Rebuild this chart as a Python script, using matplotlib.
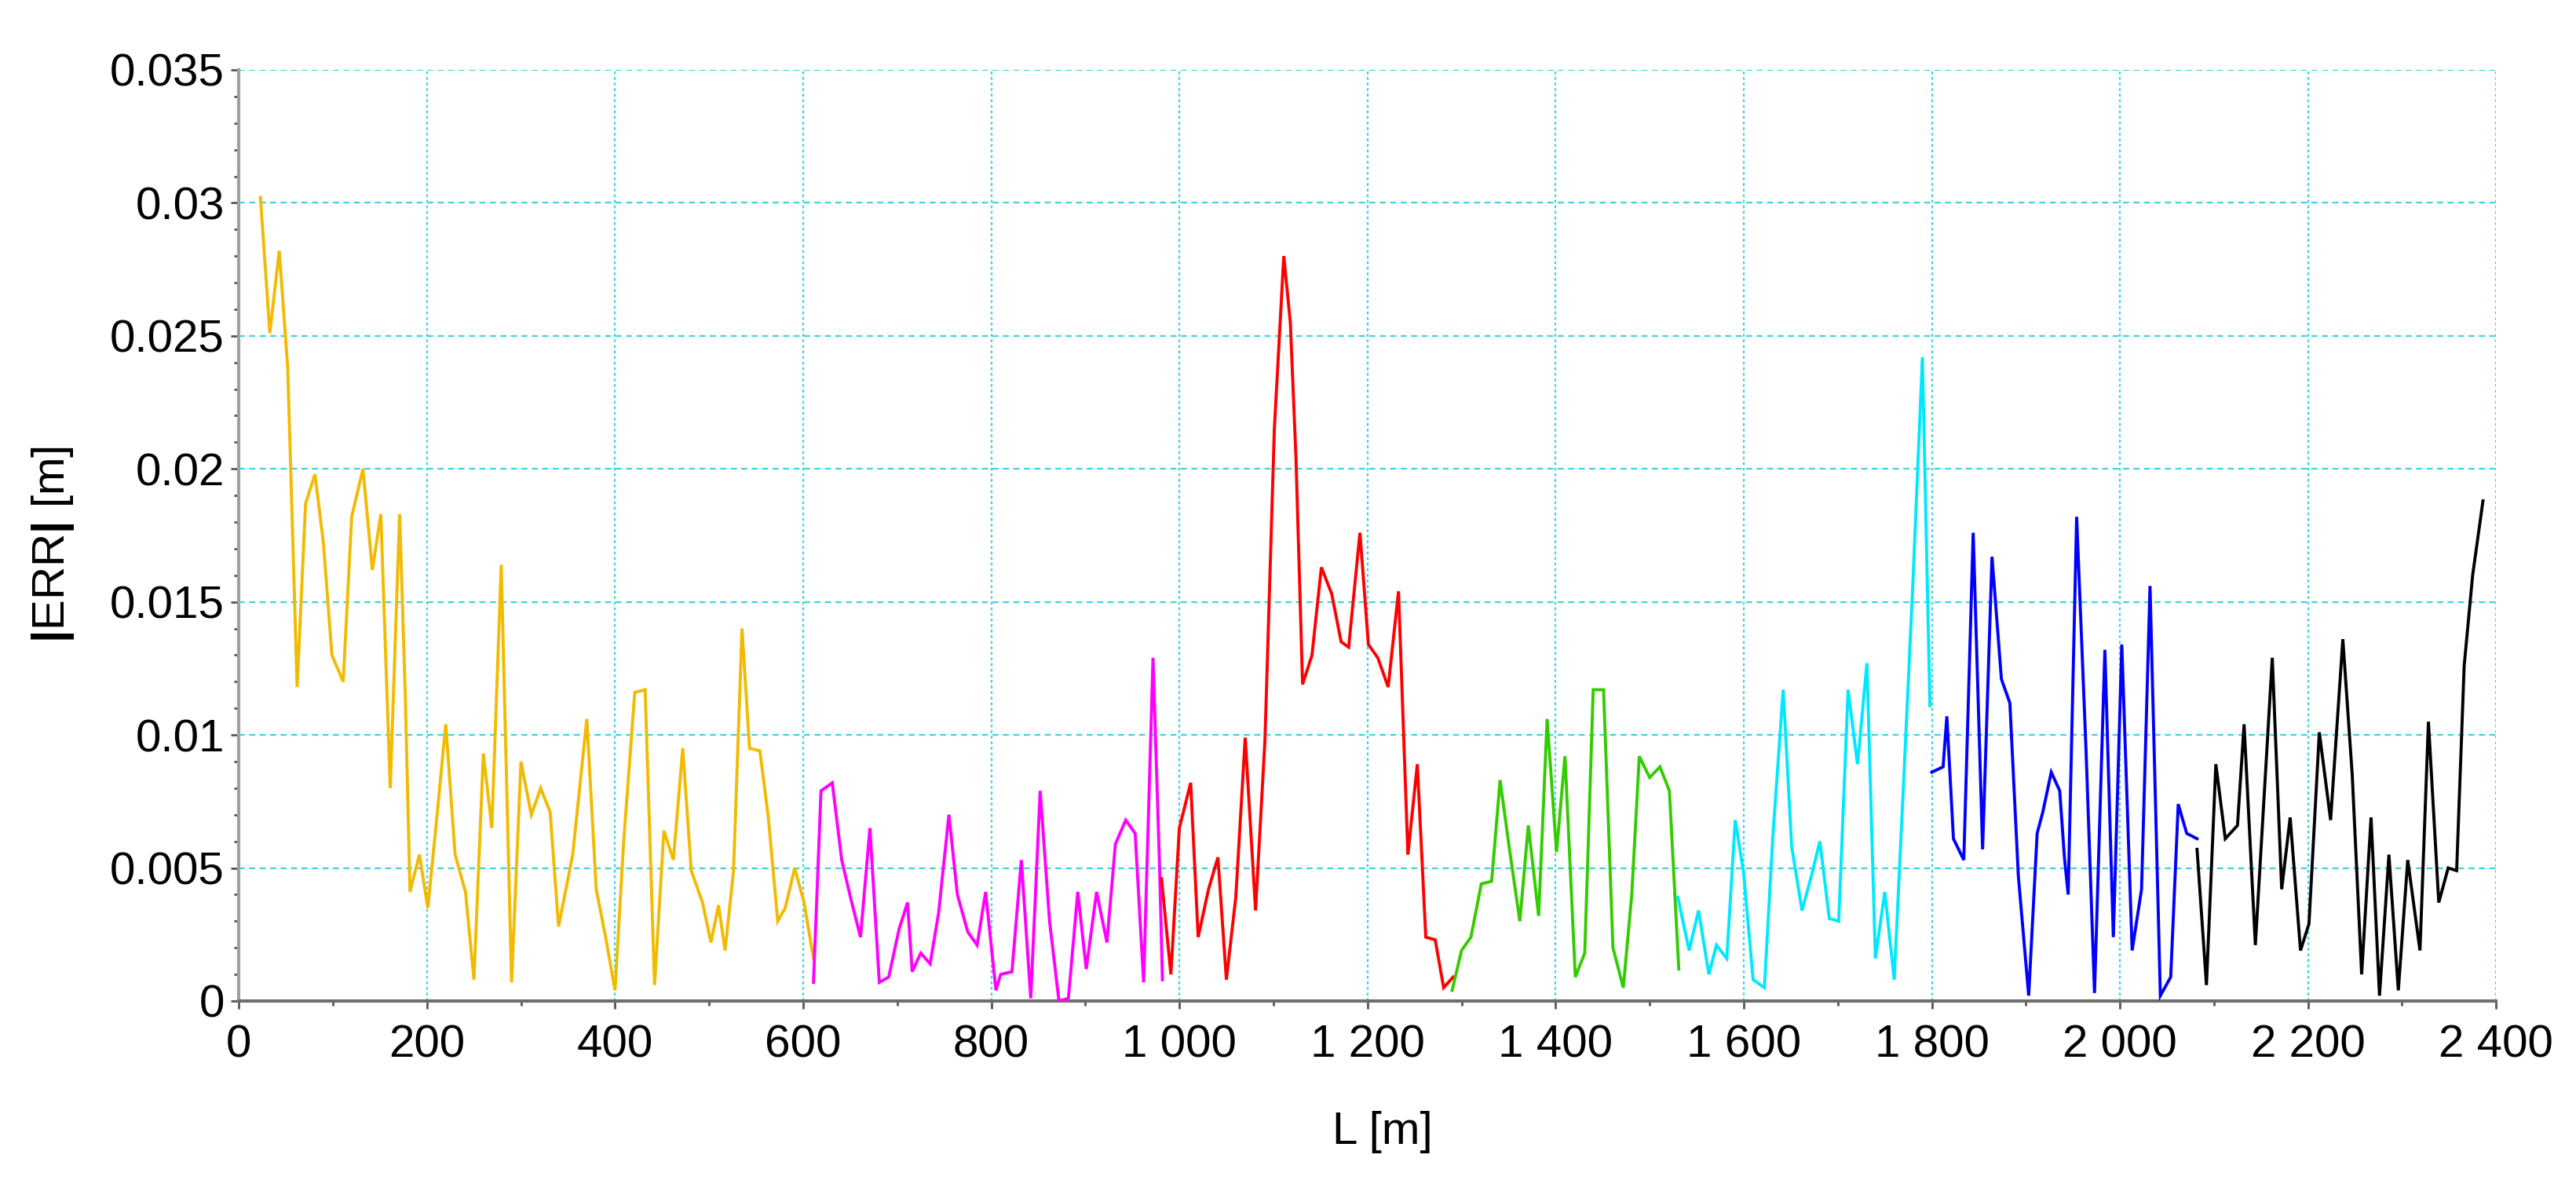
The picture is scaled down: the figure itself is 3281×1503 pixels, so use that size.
import matplotlib
matplotlib.use("Agg")
import matplotlib.pyplot as plt
from matplotlib.ticker import MultipleLocator, FuncFormatter

plt.rcParams['font.family'] = ['Liberation Sans', 'DejaVu Sans']
plt.rcParams['mathtext.fontset'] = 'custom'
plt.rcParams['mathtext.rm'] = 'Liberation Sans'
plt.rcParams['mathtext.bf'] = 'Liberation Sans:bold'

# ---- data ----
orange_x = [23, 33, 43, 52, 62, 71, 81, 90, 99, 111, 120, 132, 142, 151, 161, 171, 177, 182, 192, 201,
            210, 220, 230, 241, 250, 260, 269, 279, 290, 300, 311, 321, 331, 340, 355, 370, 380, 390, 400,
            409, 421, 432, 442, 452, 462, 472, 481, 493, 502, 510, 517, 526, 535, 543, 554, 563, 573, 581,
            591, 601, 611]
orange_y = [0.0302, 0.0251, 0.0282, 0.0238, 0.0118, 0.0187, 0.0198, 0.0172, 0.0130, 0.0120, 0.0182, 0.0200,
            0.0162, 0.0183, 0.0080, 0.0183, 0.0115, 0.0041, 0.0055, 0.0035, 0.0067, 0.0104, 0.0055, 0.0041,
            0.0008, 0.0093, 0.0065, 0.0164, 0.0007, 0.0090, 0.0070, 0.0080, 0.0071, 0.0028, 0.0055, 0.0106,
            0.0042, 0.0024, 0.0004, 0.0059, 0.0116, 0.0117, 0.0006, 0.0064, 0.0053, 0.0095, 0.0049, 0.0037,
            0.0022, 0.0036, 0.0019, 0.0049, 0.0140, 0.0095, 0.0094, 0.0069, 0.0030, 0.0035, 0.0050, 0.0037,
            0.0016]

magenta_x = [611, 619, 631, 641, 651, 661, 671, 681, 691, 702, 711, 716, 725, 735, 744, 755, 764, 775, 785,
             794, 805, 810, 822, 832, 842, 852, 862, 872, 882, 892, 901, 912, 923, 932, 943, 953, 962, 972,
             979, 982]
magenta_y = [0.0007, 0.0079, 0.0082, 0.0053, 0.0038, 0.0024, 0.0065, 0.0007, 0.0009, 0.0027, 0.0037, 0.0011,
             0.0018, 0.0014, 0.0033, 0.0070, 0.0040, 0.0026, 0.0021, 0.0041, 0.0004, 0.0010, 0.0011, 0.0053,
             0.0001, 0.0079, 0.0030, 0.0000, 0.0001, 0.0041, 0.0012, 0.0041, 0.0022, 0.0059, 0.0068, 0.0063,
             0.0007, 0.0129, 0.0050, 0.0008]

red_x = [981, 991, 1000, 1012, 1020, 1031, 1041, 1050, 1060, 1070, 1081, 1091, 1101, 1111, 1118, 1124, 1131,
         1141, 1151, 1162, 1172, 1180, 1192, 1201, 1211, 1222, 1233, 1243, 1253, 1262, 1272, 1281, 1291]
red_y = [0.0046, 0.0010, 0.0065, 0.0082, 0.0024, 0.0042, 0.0054, 0.0008, 0.0039, 0.0099, 0.0034, 0.0098,
         0.0215, 0.0280, 0.0255, 0.0204, 0.0119, 0.0130, 0.0163, 0.0153, 0.0135, 0.0133, 0.0176, 0.0134,
         0.0129, 0.0118, 0.0154, 0.0055, 0.0089, 0.0024, 0.0023, 0.0005, 0.0009]

green_x = [1290, 1300, 1310, 1321, 1332, 1341, 1351, 1362, 1371, 1382, 1391, 1401, 1410, 1421, 1431, 1440,
           1451, 1461, 1472, 1481, 1489, 1500, 1511, 1521, 1531]
green_y = [0.0004, 0.0019, 0.0024, 0.0044, 0.0045, 0.0083, 0.0057, 0.0030, 0.0066, 0.0032, 0.0106, 0.0056,
           0.0092, 0.0009, 0.0018, 0.0117, 0.0117, 0.0020, 0.0005, 0.0040, 0.0092, 0.0084, 0.0088, 0.0079,
           0.0012]

cyan_x = [1530, 1542, 1552, 1563, 1571, 1582, 1591, 1600, 1610, 1622, 1631, 1642, 1651, 1662, 1672, 1681,
          1691, 1701, 1711, 1721, 1731, 1740, 1750, 1760, 1770, 1780, 1790, 1798]
cyan_y = [0.0039, 0.0019, 0.0034, 0.0010, 0.0021, 0.0016, 0.0068, 0.0048, 0.0008, 0.0005, 0.0062, 0.0117,
          0.0058, 0.0034, 0.0047, 0.0060, 0.0031, 0.0030, 0.0117, 0.0089, 0.0127, 0.0016, 0.0041, 0.0008,
          0.0082, 0.0158, 0.0242, 0.0111]

blue_x = [1800, 1812, 1816, 1823, 1834, 1844, 1854, 1864, 1874, 1883, 1892, 1903, 1912, 1918, 1927, 1936,
          1941, 1945, 1954, 1964, 1973, 1984, 1993, 2002, 2013, 2023, 2032, 2043, 2054, 2062, 2071, 2082]
blue_y = [0.0086, 0.0088, 0.0107, 0.0061, 0.0053, 0.0176, 0.0057, 0.0167, 0.0121, 0.0112, 0.0047, 0.0002,
          0.0063, 0.0071, 0.0086, 0.0079, 0.0054, 0.0040, 0.0182, 0.0094, 0.0003, 0.0132, 0.0024, 0.0134,
          0.0019, 0.0042, 0.0156, 0.0002, 0.0009, 0.0074, 0.0063, 0.0061]

black_x = [2082, 2092, 2102, 2112, 2125, 2132, 2144, 2153, 2162, 2172, 2181, 2192, 2201, 2212, 2224, 2237,
           2247, 2257, 2267, 2276, 2286, 2296, 2306, 2319, 2328, 2339, 2349, 2358, 2366, 2375, 2386]
black_y = [0.0057, 0.0006, 0.0089, 0.0061, 0.0066, 0.0104, 0.0021, 0.0075, 0.0129, 0.0042, 0.0069, 0.0019,
           0.0029, 0.0101, 0.0068, 0.0136, 0.0085, 0.0010, 0.0069, 0.0002, 0.0055, 0.0004, 0.0053, 0.0019,
           0.0105, 0.0037, 0.0050, 0.0049, 0.0126, 0.0160, 0.0188]

segments = [
    (orange_x, orange_y, '#F2BA00'),
    (magenta_x, magenta_y, '#FF00FF'),
    (red_x, red_y, '#FF0000'),
    (green_x, green_y, '#33CC00'),
    (cyan_x, cyan_y, '#00E8FF'),
    (blue_x, blue_y, '#0000FF'),
    (black_x, black_y, '#000000'),
]

x_ticks = list(range(0, 2401, 200))
y_ticks = [0, 0.005, 0.01, 0.015, 0.02, 0.025, 0.03, 0.035]

# ---- figure ----
fig = plt.figure(figsize=(32.81, 15.03), dpi=100)
ax = fig.add_axes([0.0927, 0.1517, 0.969 - 0.0927, 0.9408 - 0.1517])

grid_col = '#3FD3E3'
for xv in x_ticks[1:]:
    ax.axvline(xv, color=grid_col, lw=1.6, ls=(0, (1.6, 1.6)), zorder=1)
for yv in y_ticks[1:]:
    ax.axhline(yv, color=grid_col, lw=1.6, ls=(0, (3.5, 2.5)), zorder=1)

for xs, ys, col in segments:
    ax.plot(xs, ys, color=col, lw=2.8, zorder=3, solid_joinstyle='miter')

ax.set_xlim(0, 2400)
ax.set_ylim(0, 0.035)
ax.set_xticks(x_ticks)
ax.set_yticks(y_ticks)
ax.xaxis.set_minor_locator(MultipleLocator(100))
ax.yaxis.set_minor_locator(MultipleLocator(0.001))
ax.xaxis.set_major_formatter(FuncFormatter(lambda v, p: f"{int(round(v)):,}".replace(',', ' ')))
ax.yaxis.set_major_formatter(FuncFormatter(lambda v, p: f"{v:g}"))

for s in ['top', 'right']:
    ax.spines[s].set_visible(False)
for s in ['left', 'bottom']:
    ax.spines[s].set_color('#6E6E6E')
    ax.spines[s].set_linewidth(3.0)
ax.spines['left'].set_color('#A0A0A0')

ax.tick_params(axis='both', which='major', length=7, width=2.0, color='#555555',
               labelsize=42, direction='out')
ax.tick_params(axis='both', which='minor', length=4, width=2.0, color='#555555', direction='out')
ax.tick_params(axis='x', which='major', pad=14)
ax.tick_params(axis='y', which='major', pad=6)

ax.set_xlabel('L [m]', fontsize=42)
ax.set_ylabel(r'$\mathbf{|}$ERR$\mathbf{|}$ [m]', fontsize=42)
ax.xaxis.set_label_coords(0.5065, -0.118)
ax.yaxis.set_label_coords(-0.072, 0.49)

fig.savefig('out.png', dpi=100, facecolor='white')
